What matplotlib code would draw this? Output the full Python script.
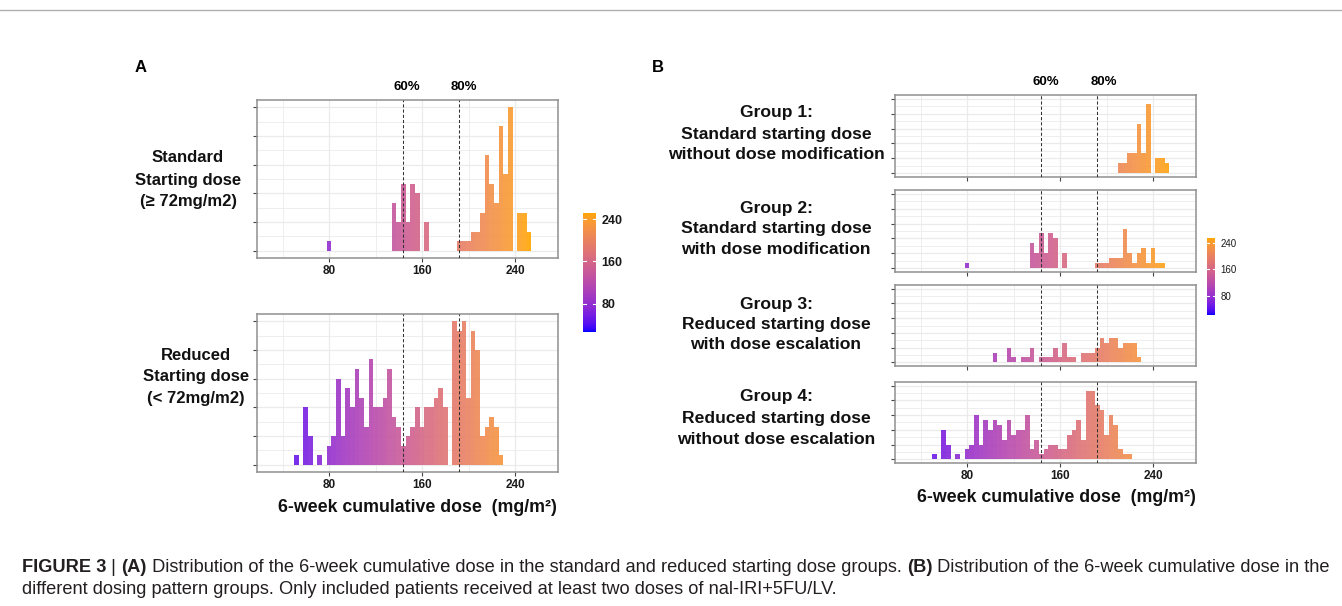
import numpy as np
import matplotlib
matplotlib.use("Agg")
import matplotlib.pyplot as plt
from matplotlib.colors import ListedColormap, Normalize
from matplotlib.lines import Line2D

# ---------------- data ----------------
BIN_W = 4
CUT_60 = 144
CUT_80 = 192
x_ticks = [80, 160, 240]
cbar_ticks = [80, 160, 240]

# Panel A (standard / reduced starting dose)
a_std_centers = [80, 136, 140, 144, 148, 152, 156, 164, 192, 196, 200, 204, 208,
                 212, 216, 220, 224, 228, 232, 236, 244, 248, 252]
a_std_counts = [1, 5, 3, 7, 3, 7, 6, 3, 1, 1, 1, 2, 2,
                4, 10, 7, 5, 13, 8, 15, 4, 4, 2]

a_red_centers = [52, 60, 64, 72, 80, 84, 88, 92, 96, 100, 104, 108, 112, 116, 120,
                 124, 128, 132, 136, 140, 144, 148, 152, 156, 160, 164, 168, 172,
                 176, 180, 188, 192, 196, 200, 204, 208, 212, 216, 220, 224, 228]
a_red_counts = [1, 6, 3, 1, 2, 3, 9, 3, 8, 6, 10, 7, 4, 11, 6,
                6, 7, 10, 5, 4, 2, 3, 4, 6, 4, 6, 6, 7,
                8, 6, 15, 14, 15, 7, 14, 12, 3, 4, 5, 4, 1]

# Panel B (dosing pattern groups)
g1_centers = [212, 216, 220, 224, 228, 232, 236, 244, 248, 252]
g1_counts = [2, 2, 4, 4, 10, 4, 14, 3, 3, 2]

g2_centers = [80, 136, 140, 144, 148, 152, 156, 164, 192, 196, 200, 204, 208, 212,
              216, 220, 224, 228, 232, 236, 240, 244, 248]
g2_counts = [1, 5, 3, 7, 3, 7, 6, 3, 1, 1, 1, 2, 2, 2,
             8, 3, 1, 3, 4, 1, 4, 1, 1]

g3_centers = [104, 116, 120, 128, 132, 136, 144, 148, 152, 156, 160, 164, 168, 172,
              180, 184, 188, 192, 196, 200, 204, 208, 212, 216, 220, 224, 228]
g3_counts = [2, 3, 1, 1, 1, 3, 1, 1, 1, 3, 1, 4, 1, 1,
             2, 2, 2, 3, 5, 4, 5, 5, 3, 4, 4, 4, 1]

g4_centers = [52, 60, 64, 72, 80, 84, 88, 92, 96, 100, 104, 108, 112, 116, 120, 124,
              128, 132, 136, 140, 144, 148, 152, 156, 160, 164, 168, 172, 176, 180,
              184, 188, 192, 196, 200, 204, 208, 212, 216, 220]
g4_counts = [1, 6, 3, 1, 2, 3, 9, 3, 8, 6, 8, 7, 4, 8, 5, 6,
             6, 9, 2, 4, 1, 2, 3, 3, 2, 2, 5, 6, 8, 4,
             14, 14, 11, 10, 5, 9, 7, 2, 1, 1]

row_labels_a = [["Standard", "Starting dose", "(\u2265 72mg/m2)"],
                ["Reduced", "Starting dose", "(< 72mg/m2)"]]
row_labels_b = [["Group 1:", "Standard starting dose", "without dose modification"],
                ["Group 2:", "Standard starting dose", "with dose modification"],
                ["Group 3:", "Reduced starting dose", "with dose escalation"],
                ["Group 4:", "Reduced starting dose", "without dose escalation"]]
x_title = "6-week cumulative dose  (mg/m\u00b2)"
caption1 = [("FIGURE 3", "bold"), (" | ", "normal"), ("(A)", "bold"),
            (" Distribution of the 6-week cumulative dose in the standard and reduced starting dose groups. ", "normal"),
            ("(B)", "bold"), (" Distribution of the 6-week cumulative dose in the", "normal")]
caption2 = "different dosing pattern groups. Only included patients received at least two doses of nal-IRI+5FU/LV."

# ---------------- colour ramp (Lab interpolation, blue -> orange) ----------------
_M = np.array([[0.4124, 0.3576, 0.1805], [0.2126, 0.7152, 0.0722], [0.0193, 0.1192, 0.9505]])
_Mi = np.linalg.inv(_M)
_WP = np.array([0.95047, 1.0, 1.08883])
_D = 6 / 29


def _lin(c):
    c = np.asarray(c, float)
    return np.where(c <= 0.04045, c / 12.92, ((c + 0.055) / 1.055) ** 2.4)


def _delin(c):
    c = np.clip(c, 0, None)
    return np.where(c <= 0.0031308, 12.92 * c, 1.055 * c ** (1 / 2.4) - 0.055)


def _f(t):
    return np.where(t > _D ** 3, np.cbrt(t), t / (3 * _D * _D) + 4 / 29)


def _finv(t):
    return np.where(t > _D, t ** 3, 3 * _D * _D * (t - 4 / 29))


def rgb2lab(rgb):
    xyz = _M @ _lin(rgb)
    fx, fy, fz = _f(xyz / _WP)
    return np.array([116 * fy - 16, 500 * (fx - fy), 200 * (fy - fz)])


def lab2rgb(lab):
    L, a, b = lab
    fy = (L + 16) / 116
    fx = fy + a / 500
    fz = fy - b / 200
    xyz = np.array([_finv(fx), _finv(fy), _finv(fz)]) * _WP
    return np.clip(_delin(_Mi @ xyz), 0, 1)


lab_lo = rgb2lab([0.0, 0.0, 1.0])
lab_hi = rgb2lab([1.0, 165 / 255, 0.0])
ramp = [lab2rgb(lab_lo + (lab_hi - lab_lo) * t) for t in np.linspace(0, 1, 256)]
CMAP = ListedColormap(ramp)

# ---------------- figure ----------------
W, H = 1342, 606
fig = plt.figure(figsize=(W / 100, H / 100), dpi=100)
fig.patch.set_facecolor("white")
FONT = ["Liberation Sans", "DejaVu Sans"]
plt.rcParams["font.family"] = FONT

XLIM = (18, 277)
YLIM = (-0.75, 15.75)
GRID = "#ebebeb"
SPINE = "#8f8f8f"


def add_ax(x0, y0, x1, y1):
    return fig.add_axes([x0 / W, 1 - y1 / H, (x1 - x0) / W, (y1 - y0) / H])


def ftext(x, y, s, **kw):
    kw.setdefault("ha", "center")
    kw.setdefault("va", "center")
    return fig.text(x / W, 1 - y / H, s, **kw)


def hist_panel(rect, centers, counts, norm, show_labels, tick_fs):
    ax = add_ax(*rect)
    ax.set_xlim(*XLIM)
    ax.set_ylim(*YLIM)
    ax.set_xticks(x_ticks)
    ax.set_xticks([40, 120, 200], minor=True)
    ax.set_yticks(np.arange(0, 16, 3))
    ax.set_yticks(np.arange(1.5, 16, 3), minor=True)
    ax.grid(which="major", color=GRID, lw=0.9, zorder=0)
    ax.grid(which="minor", color=GRID, lw=0.6, zorder=0)
    ax.set_axisbelow(True)
    ax.set_yticklabels([])
    ax.tick_params(axis="y", which="major", length=3, width=0.8, color="#444444")
    ax.tick_params(axis="x", which="major", length=3, width=0.8, color="#444444")
    ax.tick_params(which="minor", length=0)
    if show_labels:
        ax.set_xticklabels([str(t) for t in x_ticks], fontsize=tick_fs,
                           fontweight="bold", color="#1a1a1a")
        ax.tick_params(axis="x", pad=2)
    else:
        ax.set_xticklabels([])
    for sp in ax.spines.values():
        sp.set_color(SPINE)
        sp.set_linewidth(1.1)
    cols = CMAP(norm(np.asarray(centers, float)))
    ax.bar(centers, counts, width=BIN_W, color=cols, alpha=0.9,
           edgecolor="none", linewidth=0, zorder=2)
    for c in (CUT_60, CUT_80):
        ax.axvline(c, color="#333333", lw=0.75, ls=(0, (3, 2)), zorder=3)
    return ax


def colorbar(rect, vmin, vmax, fs, weight):
    ax = add_ax(*rect)
    grad = np.linspace(vmin, vmax, 256).reshape(-1, 1)
    ax.imshow(grad, extent=(0, 1, vmin, vmax), origin="lower", aspect="auto",
              cmap=CMAP, vmin=vmin, vmax=vmax)
    ax.set_xlim(0, 1)
    ax.set_ylim(vmin, vmax)
    for t in cbar_ticks:
        ax.plot([0, 0.22], [t, t], color="white", lw=0.8)
        ax.plot([0.78, 1], [t, t], color="white", lw=0.8)
    ax.set_xticks([])
    ax.yaxis.tick_right()
    ax.set_yticks(cbar_ticks)
    ax.set_yticklabels([str(t) for t in cbar_ticks], fontsize=fs, fontweight=weight,
                       color="#1a1a1a")
    ax.tick_params(axis="y", length=0, pad=4)
    for sp in ax.spines.values():
        sp.set_visible(False)
    return ax


# ---------- Panel A ----------
norm_a = Normalize(26, 252)
hist_panel((257, 100, 558, 258), a_std_centers, a_std_counts, norm_a, True, 8.5)
hist_panel((257, 314, 558, 472), a_red_centers, a_red_counts, norm_a, True, 8.5)
colorbar((583, 213, 596, 332), 26, 252, 9, "bold")

ftext(141, 67, "A", fontsize=12, fontweight="bold")
ftext(407, 87, "60%", fontsize=9.5, fontweight="bold")
ftext(464, 87, "80%", fontsize=9.5, fontweight="bold")

for lines, cx, ys in [(row_labels_a[0], 188, (158, 180, 202)),
                      (row_labels_a[1], 196, (355, 377, 399))]:
    for s, y in zip(lines, ys):
        ftext(cx, y, s, fontsize=12, fontweight="bold", color="#111111")

ftext(417, 507, x_title, fontsize=12.8, fontweight="bold", color="#111111")

# ---------- Panel B ----------
norm_b = Normalize(22, 255)
b_rects = [(895, 95, 1196, 177), (895, 190, 1196, 272),
           (895, 285, 1196, 366), (895, 382, 1196, 463)]
b_data = [(g1_centers, g1_counts), (g2_centers, g2_counts),
          (g3_centers, g3_counts), (g4_centers, g4_counts)]
for i, (rect, (cs, ns)) in enumerate(zip(b_rects, b_data)):
    hist_panel(rect, cs, ns, norm_b, i == 3, 8.5)
colorbar((1207, 238, 1215, 315), 22, 255, 7, "normal")

ftext(658, 67, "B", fontsize=12, fontweight="bold")
ftext(1046, 82, "60%", fontsize=9.5, fontweight="bold")
ftext(1104, 82, "80%", fontsize=9.5, fontweight="bold")

b_label_ys = [(113, 134, 155), (209, 229, 250), (304, 325, 345), (397, 418, 439)]
for lines, ys in zip(row_labels_b, b_label_ys):
    for s, y in zip(lines, ys):
        ftext(776, y, s, fontsize=12.6, fontweight="bold", color="#111111")

ftext(1056, 497, x_title, fontsize=12.8, fontweight="bold", color="#111111")

# ---------- frame line ----------
fig.add_artist(Line2D([0, 1], [1 - 10 / H, 1 - 10 / H], color="#b0b0b0", lw=1.0))

# ---------- caption ----------
renderer = fig.canvas.get_renderer()
CAP_COL = "#231f20"
CAP_X0, CAP_X1 = 22, 1332


def caption_width(fs):
    total = 0
    for s, wgt in caption1:
        t = fig.text(0, 0, s, fontsize=fs, fontweight=wgt)
        total += t.get_window_extent(renderer).width
        t.remove()
    return total


cap_fs = 12 * (CAP_X1 - CAP_X0) / caption_width(12)
x = CAP_X0
for s, wgt in caption1:
    t = ftext(x, 567, s, fontsize=cap_fs, fontweight=wgt, ha="left", color=CAP_COL)
    x += t.get_window_extent(renderer).width
ftext(CAP_X0, 590, caption2, fontsize=cap_fs, ha="left", color=CAP_COL)

fig.savefig("out.png", dpi=100, facecolor="white")
